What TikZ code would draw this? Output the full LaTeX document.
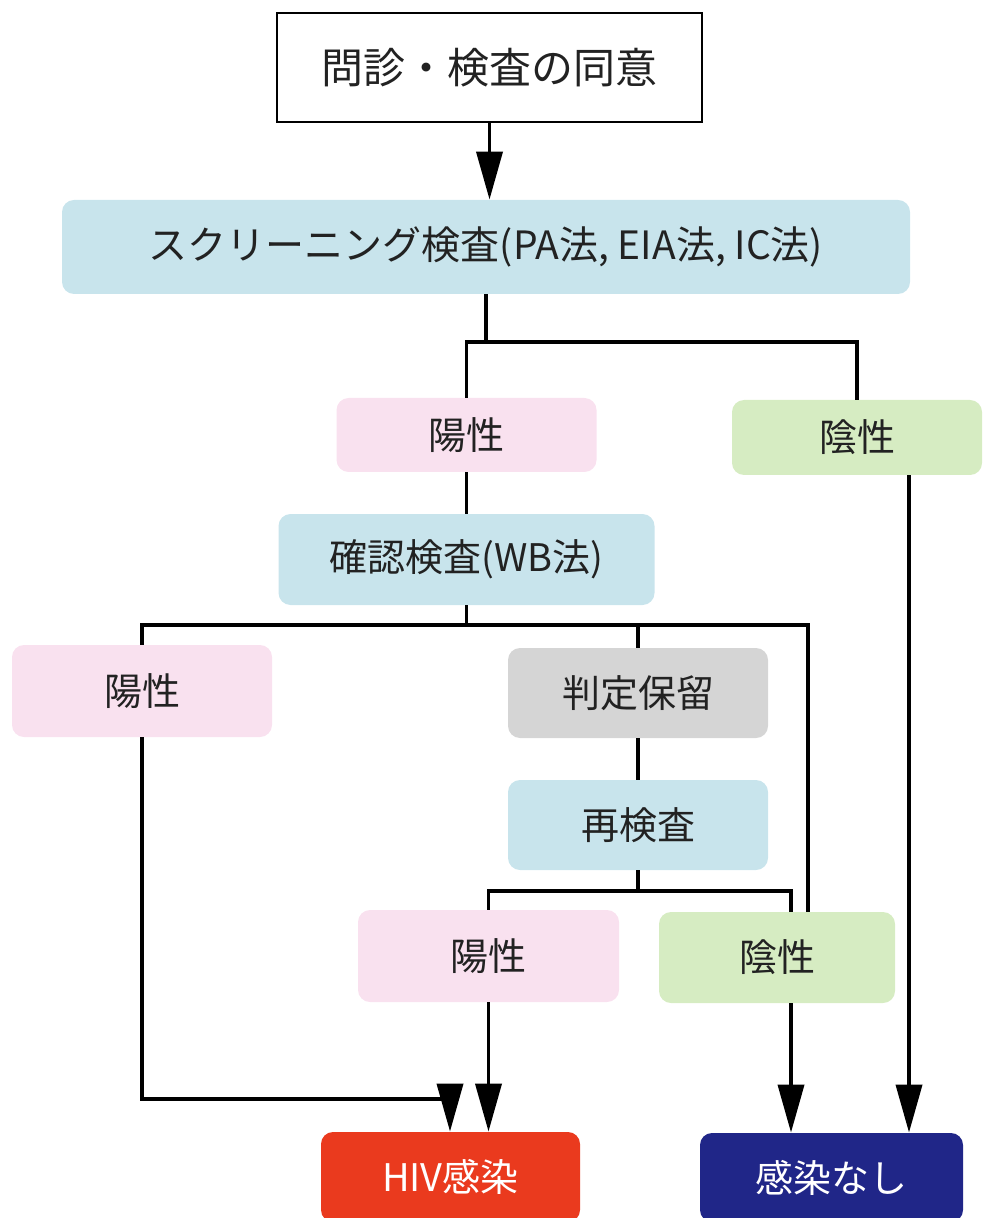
\documentclass[tikz,border=0pt]{standalone}
\usepackage{fontspec}
\setmainfont{Noto Sans CJK JP}
\usetikzlibrary{arrows.meta}
\definecolor{testblue}{HTML}{C8E4EC}
\definecolor{pospink}{HTML}{F9E1EF}
\definecolor{neggreen}{HTML}{D6ECC2}
\definecolor{holdgray}{HTML}{D5D5D5}
\definecolor{hivred}{HTML}{EA3A1E}
\definecolor{nonenavy}{HTML}{202688}
\definecolor{inktext}{HTML}{222222}
\begin{document}
\begin{tikzpicture}[x=0.5pt, y=-0.5pt,
        box/.style={rounded corners=6pt, inner sep=0pt, text=inktext,
            font=\fontsize{19pt}{19pt}\selectfont},
        line/.style={line width=1.9pt},
        arr/.style={line width=1.9pt, -{Triangle[length=24pt, width=13pt]}}]
        \useasboundingbox (0, 0) rectangle (982, 1218);
        % boxes
        \node [draw, line width=0.8pt, minimum width=212.5pt, minimum height=54.5pt, text=inktext,
            font=\fontsize{21pt}{21pt}\selectfont] (consent) at (489.5, 67.5) {問診・検査の同意};
        \node [box, fill=testblue, minimum width=424pt, minimum height=47pt,
            font=\fontsize{19.5pt}{19.5pt}\selectfont] (screen) at (486, 247) {スクリーニング検査(PA法, EIA法, IC法)};
        \node [box, fill=pospink, minimum width=130pt, minimum height=37pt] (pos1) at (466.5, 435) {陽性};
        \node [box, fill=neggreen, minimum width=125pt, minimum height=37.5pt] (neg1) at (857, 437.5) {陰性};
        \node [box, fill=testblue, minimum width=188pt, minimum height=45.5pt] (conf) at (466.5, 559.5) {確認検査(WB法)};
        \node [box, fill=pospink, minimum width=130pt, minimum height=46pt] (pos2) at (142, 691) {陽性};
        \node [box, fill=holdgray, minimum width=130pt, minimum height=45pt] (hold) at (638, 693) {判定保留};
        \node [box, fill=testblue, minimum width=130pt, minimum height=45pt] (retest) at (638, 825) {再検査};
        \node [box, fill=pospink, minimum width=130.5pt, minimum height=46pt] (pos3) at (488.5, 956) {陽性};
        \node [box, fill=neggreen, minimum width=118pt, minimum height=45.5pt] (neg3) at (777, 957.5) {陰性};
        \node [box, fill=hivred, text=white, minimum width=129.5pt, minimum height=45pt] (hiv) at (450.5, 1177) {HIV感染};
        \node [box, fill=nonenavy, text=white, minimum width=131.5pt, minimum height=44.5pt] (none) at (831.5, 1177.5) {感染なし};
        % branch points
        \coordinate (j1) at (486, 342);
        \coordinate (j2) at (466.5, 625);
        \coordinate (j3) at (638, 891);
        \coordinate (k) at (450, 1099);
        % connectors
        \draw [arr] (consent.south) -- (consent.south |- screen.north);
        \draw [line] (screen.south) -- (j1);
        \draw [line] (pos1.north) |- (j1) -| (neg1.north);
        \draw [line] (pos1) -- (conf);
        \draw [line] (conf.south) -- (j2);
        \draw [line] (pos2.north) |- (j2) -| (hold.north);
        \draw [line] (j2) -| ([xshift=15.5pt]neg3.north);
        \draw [line] (hold) -- (retest);
        \draw [line] (retest.south) -- (j3);
        \draw [line] (pos3.north) |- (j3) -| ([xshift=7pt]neg3.north);
        \draw [arr] (pos2.south) |- (k) -- (k |- hiv.north);
        \draw [arr] (pos3.south) -- (pos3.south |- hiv.north);
        \draw [arr] ([xshift=7pt]neg3.south) -- ([xshift=7pt]neg3.south |- none.north);
        \draw [arr] ([xshift=26pt]neg1.south) -- ([xshift=26pt]neg1.south |- none.north);
    \end{tikzpicture}
\end{document}
